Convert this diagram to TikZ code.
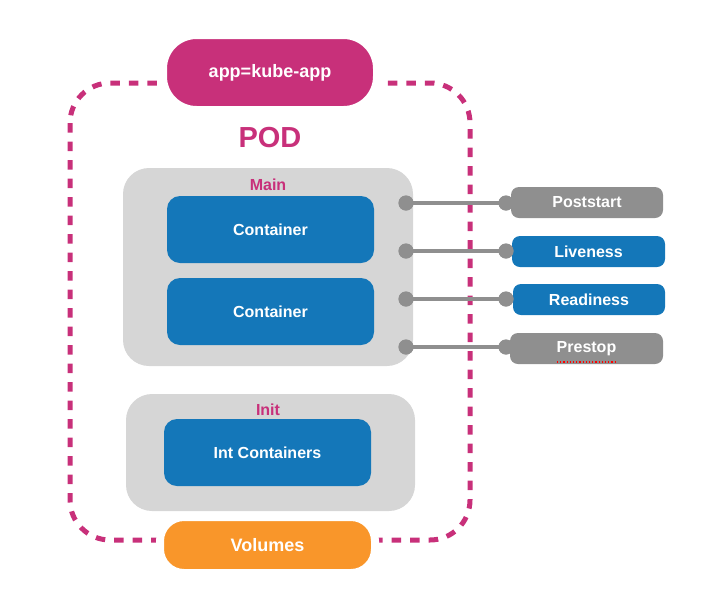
\documentclass[tikz,border=0pt]{standalone}
\usepackage{fontspec}
\setmainfont{Liberation Sans}
\definecolor{kmag}{HTML}{C8307A}
\definecolor{kblue}{HTML}{1477B9}
\definecolor{kbox}{HTML}{D6D6D6}
\definecolor{kgray}{HTML}{8F8F8F}
\definecolor{korange}{HTML}{F9962A}
\begin{document}
\begin{tikzpicture}[x=1pt,y=-1pt,
  fs/.style={font=\bfseries\fontsize{#1}{#1}\selectfont},
  pill/.style={rectangle, text=white, inner sep=0pt, draw=white, line width=8pt},
  group/.style={rectangle, fill=kbox, inner sep=0pt, rounded corners=26pt},
  cont/.style={rectangle, fill=kblue, text=white, inner sep=0pt, rounded corners=13pt, minimum width=207pt, minimum height=67pt, fs=16},
  probe/.style={rectangle, text=white, inner sep=0pt, rounded corners=8pt, minimum width=152pt, minimum height=31pt, fs=16},
  dot/.style={circle, fill=kgray, inner sep=0pt, minimum size=15pt},
  conn/.style={draw=kgray, line width=4pt},
  lbl/.style={text=kmag, inner sep=0pt, fs=#1}
]
\useasboundingbox (0,0) rectangle (718,606);
% pod frame
\draw[kmag, line width=5pt, dash pattern=on 9.5pt off 9pt, rounded corners=40pt] (70,83) rectangle (470,540);
% groups
\node[group, minimum width=290pt, minimum height=198pt] (main) at (268,267) {};
\node[lbl=16] (mainlbl) at (268,185) {Main};
\node[group, minimum width=289pt, minimum height=117pt] (init) at (270.5,452.5) {};
\node[lbl=16] (initlbl) at (268,410) {Init};
% containers
\node[cont] (c1) at (270.5,229.5) {Container};
\node[cont] (c2) at (270.5,311.5) {Container};
\node[cont] (ic) at (267.5,452.5) {Int Containers};
% labels / pills
\node[pill, fill=kmag, rounded corners=33.5pt, minimum width=214pt, minimum height=75pt, fs=18] (app) at (270,72.5) {app=kube-app};
\node[lbl=29] (pod) at (270,138) {POD};
\node[pill, fill=korange, rounded corners=24pt, minimum width=215pt, minimum height=56pt, fs=18] (vol) at (267.5,545) {Volumes};
% probes
\node[probe, fill=kgray] (p1) at (587,202.5) {Poststart};
\node[probe, fill=kblue, minimum width=153pt] (p2) at (588.5,251.5) {Liveness};
\node[probe, fill=kblue] (p3) at (589,299.5) {Readiness};
\node[probe, fill=kgray, minimum width=153pt] (p4) at (586.5,348.5) {Prestop};
\draw[red, line width=1.2pt, dotted] (557,362) -- (615,362);
% connectors
\foreach \i/\y in {1/203,2/251,3/299,4/347}{
  \node[dot] (l\i) at (406,\y) {};
  \node[dot] (r\i) at (506,\y) {};
  \draw[conn] (l\i.center) -- (r\i.center);
  \node[dot] at (l\i) {};
  \node[dot] at (r\i) {};
}
\end{tikzpicture}
\end{document}
